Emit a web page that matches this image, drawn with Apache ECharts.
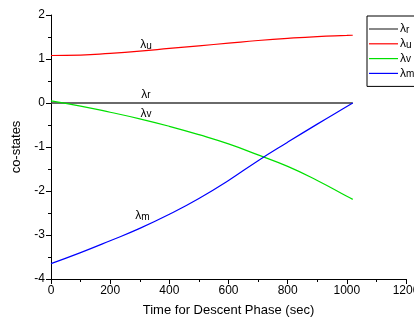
<!DOCTYPE html>
<html>
<head>
<meta charset="utf-8">
<script src="https://cdn.jsdelivr.net/npm/echarts@6/dist/echarts.min.js"></script>
<style>
  html, body { margin: 0; padding: 0; background: #fff; }
  #chart { width: 414px; height: 321px; }
</style>
</head>
<body>
<div id="chart"></div>
<script>
const times = [0, 100, 200, 300, 400, 500, 600, 700, 800, 900, 1000, 1020];
const lamR = [0, 0, 0, 0, 0, 0, 0, 0, 0, 0, 0, 0];
const lamU = [1.08, 1.09, 1.13, 1.18, 1.24, 1.30, 1.36, 1.42, 1.47, 1.51, 1.535, 1.54];
const lamV = [0.05, -0.07, -0.21, -0.36, -0.53, -0.72, -0.93, -1.18, -1.44, -1.76, -2.12, -2.19];
const lamM = [-3.65, -3.40, -3.13, -2.85, -2.53, -2.17, -1.76, -1.31, -0.89, -0.48, -0.08, 0];

const names = ['λr', 'λu', 'λv', 'λm'];
const colors = ['#3a3a3a', '#ff0000', '#00e000', '#0000ff'];
// where the curve labels sit, in data units
const labelAt = [[321, 0.2], [321, 1.32], [321, -0.24], [309, -2.57]];

const font = '"Liberation Sans", Arial, sans-serif';

function lamRich(name) {
  return '{l|λ}{s|' + name.slice(1) + '}';
}
const rich = {
  l: { fontSize: 12, fontFamily: font, color: '#000' },
  s: { fontSize: 10, fontFamily: font, color: '#000', padding: [2, 0, 0, 0] }
};

function pairs(vals) {
  return times.map((t, i) => [t, vals[i]]);
}

const all = [lamR, lamU, lamV, lamM];

const chart = echarts.init(document.getElementById('chart'));
chart.setOption({
  animation: false,
  grid: { left: 51, right: 8, top: 15, bottom: 42, outerBoundsMode: 'none' },
  legend: {
    orient: 'vertical',
    left: 367,
    top: 16,
    data: names.map(n => ({ name: n, icon: 'rect' })),
    borderColor: '#000',
    borderWidth: 1,
    borderRadius: 0,
    padding: [7, 20, 7, 2],
    itemWidth: 29,
    itemHeight: 1.2,
    itemGap: 2.8,
    formatter: lamRich,
    textStyle: { rich: rich, padding: [0, 0, 0, -3] }
  },
  xAxis: {
    type: 'value',
    min: 0, max: 1200, interval: 200,
    name: 'Time for Descent Phase (sec)',
    nameLocation: 'middle',
    nameGap: 25,
    nameTextStyle: { fontSize: 13, fontFamily: font, color: '#000' },
    axisLine: { onZero: false, lineStyle: { color: '#000', width: 1 } },
    axisTick: { show: true, inside: false, length: 5, lineStyle: { color: '#000' } },
    minorTick: { show: true, splitNumber: 2, length: 3, lineStyle: { color: '#000' } },
    axisLabel: { fontSize: 12, fontFamily: font, color: '#000', margin: 6, formatter: v => String(v) },
    splitLine: { show: false }
  },
  yAxis: {
    type: 'value',
    min: -4, max: 2, interval: 1,
    name: 'co-states',
    nameLocation: 'middle',
    nameGap: 28,
    nameTextStyle: { fontSize: 13, fontFamily: font, color: '#000' },
    axisLine: { show: true, onZero: false, lineStyle: { color: '#000', width: 1 } },
    axisTick: { show: true, inside: false, length: 5, lineStyle: { color: '#000' } },
    minorTick: { show: true, splitNumber: 2, length: 3, lineStyle: { color: '#000' } },
    axisLabel: { fontSize: 12, fontFamily: font, color: '#000', margin: 6, formatter: v => String(v) },
    splitLine: { show: false }
  },
  series: names.map((n, i) => ({
    name: n,
    type: 'line',
    data: pairs(all[i]),
    smooth: i !== 0,
    symbol: 'none',
    color: colors[i],
    lineStyle: { color: colors[i], width: i === 0 ? 1.6 : 1.2 },
    markPoint: {
      symbol: 'circle',
      symbolSize: 0,
      silent: true,
      data: [{ coord: labelAt[i] }],
      label: {
        show: true,
        position: 'inside',
        formatter: lamRich(n),
        rich: rich
      }
    }
  }))
});
</script>
</body>
</html>
